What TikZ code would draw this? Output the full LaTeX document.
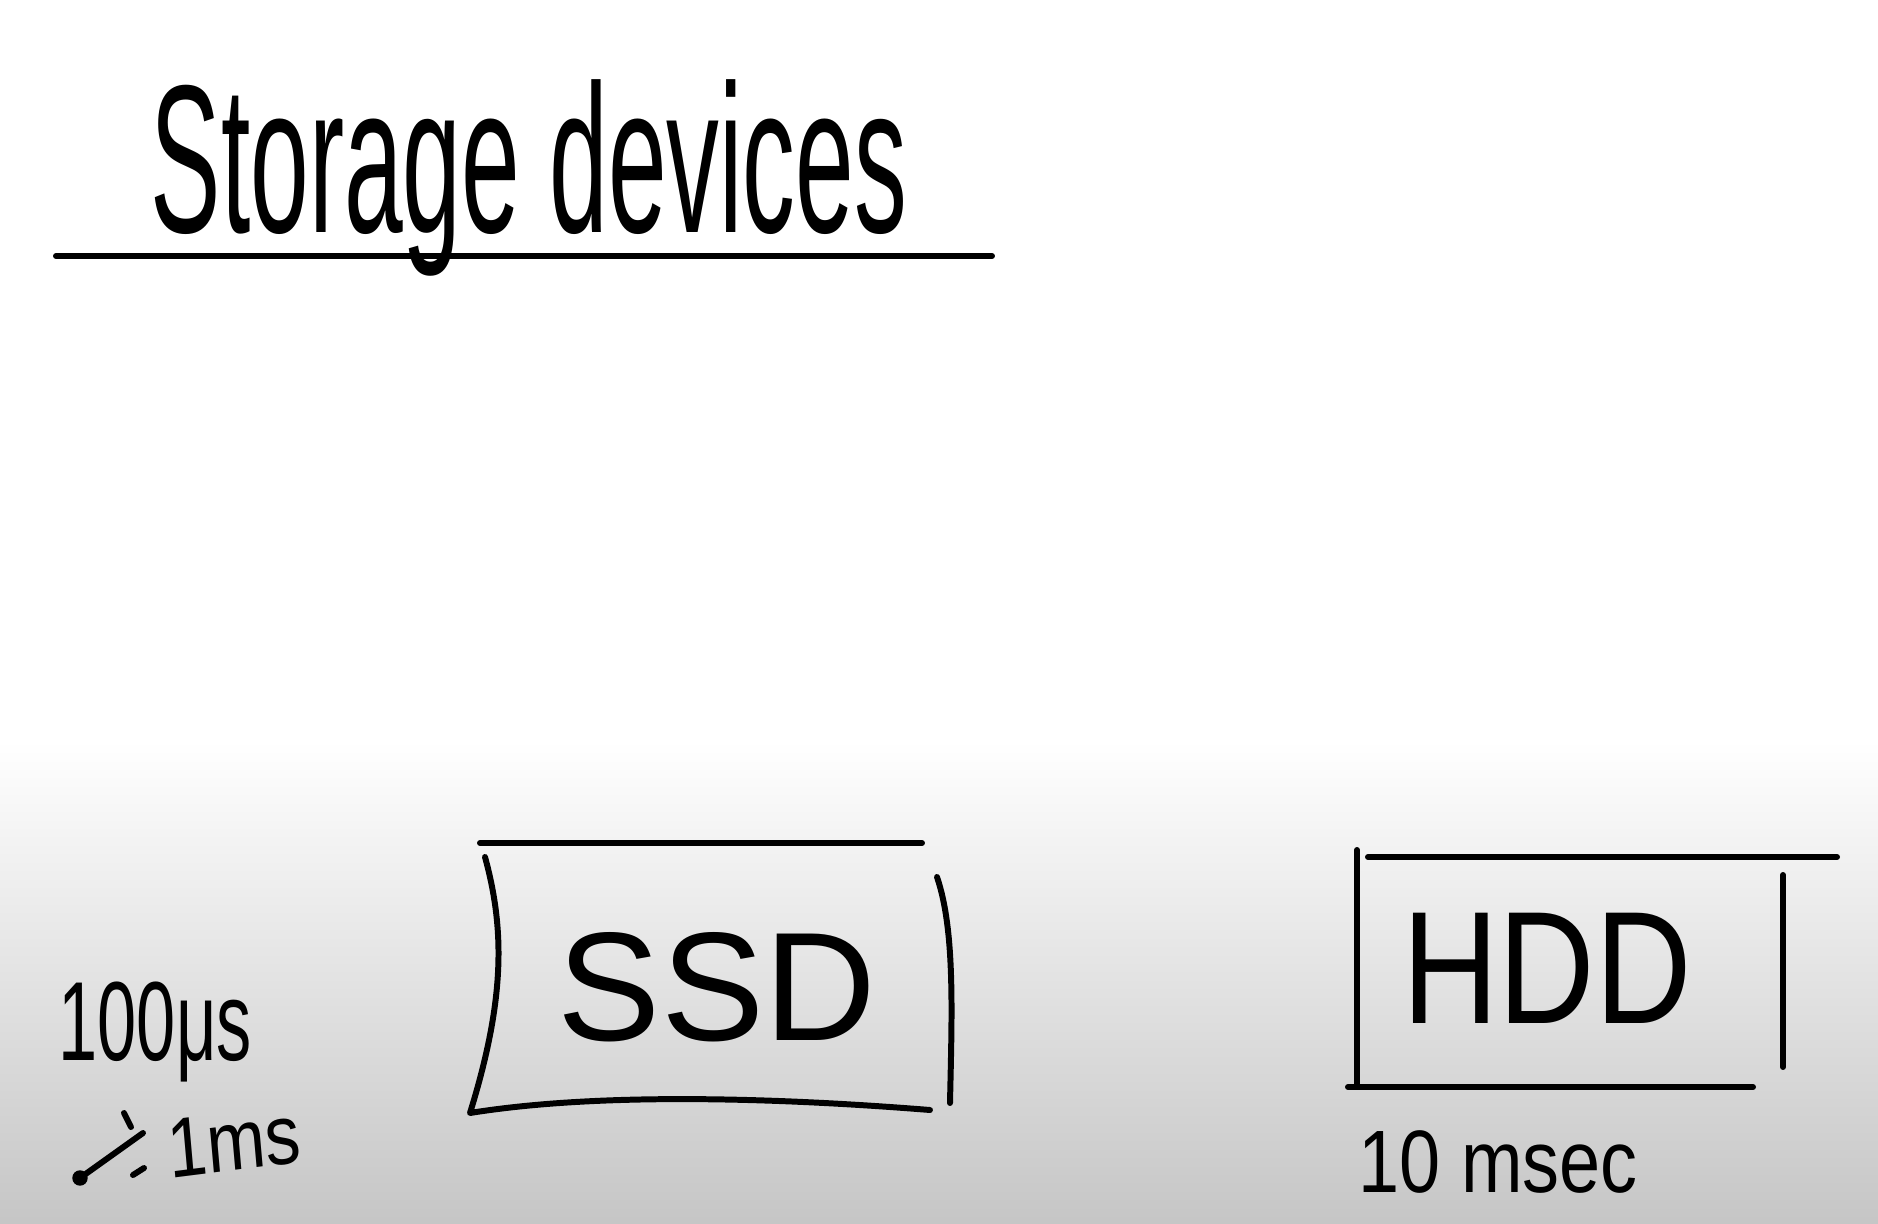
\documentclass[tikz,border=0pt]{standalone}
\usepackage{fontspec}
\setmainfont{Liberation Sans}
\usetikzlibrary{positioning}

\begin{document}
\begin{tikzpicture}[x=0.01cm, y=-0.01cm,
    pen/.style={line width=1.7pt, line cap=round, line join=round},
    hand/.style={inner sep=0pt, text=black}]
    % board
    \useasboundingbox (0,0) rectangle (1878,1224);
    \fill[white] (0,0) rectangle (1878,740);
    \shade[top color=white, bottom color=gray!45] (0,740) rectangle (1878,1224);
    % title
    \node[hand, anchor=base west, font=\fontsize{30}{36}\selectfont, yscale=2.0] (title) at (150,232) {Storage devices};
    \draw[pen] (56,256) -- (992,256);
    % SSD
    \draw[pen] (480,843) -- (922,843);
    \draw[pen] (485,857) .. controls (505,930) and (505,1000) .. (470,1113)
          .. controls (600,1092) and (780,1098) .. (930,1110);
    \draw[pen] (937,877) .. controls (955,930) and (952,1010) .. (950,1103);
    \node[hand, font=\fontsize{44}{50}\selectfont] (ssd) at (717,987) {SSD};
    % HDD
    \draw[pen] (1357,850) -- (1357,1087);
    \draw[pen] (1368,857) -- (1837,857);
    \draw[pen] (1783,875) -- (1783,1067);
    \draw[pen] (1348,1087) -- (1753,1087);
    \node[hand, font=\fontsize{38}{44}\selectfont, yscale=1.2] (hdd) at (1547,968) {HDD};
    \node[hand, anchor=west, font=\fontsize{21}{25}\selectfont, yscale=1.2] (hddtime) at (1358,1162) {10 msec};
    % latency notes
    \node[hand, anchor=base west, font=\fontsize{20}{24}\selectfont, yscale=1.6] (ssdtime) at (58,1060) {100μs};
    \node[hand, anchor=south west, font=\fontsize{20}{24}\selectfont, yscale=1.2, rotate=6] (ssdmax) at (170,1180) {1ms};
    \coordinate (dot) at (80,1178);
    \coordinate (tip) at (143,1133);
    \fill (dot) circle[radius=2.2pt];
    \draw[pen] (dot) -- (tip);
    \draw[pen] (124,1113) -- (131,1127);
    \draw[pen] (133,1175) -- (144,1168);
\end{tikzpicture}
\end{document}
